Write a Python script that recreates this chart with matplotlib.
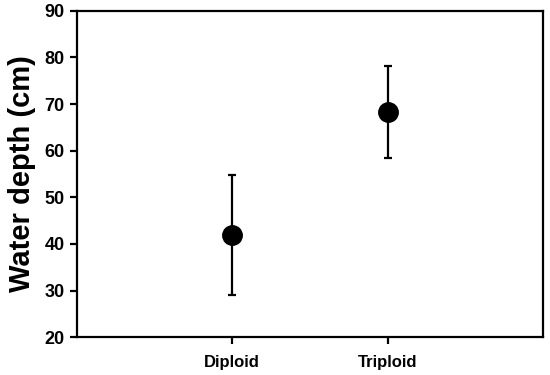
import matplotlib
matplotlib.use("Agg")
import matplotlib.pyplot as plt

plt.rcParams['font.family'] = ['Liberation Sans', 'DejaVu Sans']
plt.rcParams['font.weight'] = 'bold'

groups = ["Diploid", "Triploid"]
means = [41.9, 68.4]
lower = [29.1, 58.4]
upper = [54.8, 78.2]

x = list(range(1, len(groups) + 1))
err_low = [m - lo for m, lo in zip(means, lower)]
err_high = [hi - m for m, hi in zip(means, upper)]

fig = plt.figure(figsize=(5.5, 3.75), dpi=100)
ax = fig.add_axes([0.14, 0.101, 0.847, 0.870])

ax.errorbar(x, means, yerr=[err_low, err_high], fmt='o', color='black',
            markersize=14, elinewidth=1.6, capsize=3, capthick=1.6)

ax.set_xlim(0, 3)
ax.set_ylim(20, 90)
ax.set_xticks(x)
ax.set_xticklabels(groups, fontsize=12, fontweight='bold')
ax.set_yticks(range(20, 91, 10))
ax.tick_params(axis='y', labelsize=13, direction='out', length=5, width=1.6, right=False, pad=4)
ax.tick_params(axis='x', direction='out', length=5, width=1.6, pad=8, top=False)
for lab in ax.get_yticklabels():
    lab.set_fontweight('bold')
for s in ax.spines.values():
    s.set_linewidth(1.6)

ax.set_ylabel("Water depth (cm)", fontsize=21, fontweight='bold', labelpad=6)

fig.savefig("out.png", dpi=100)
plt.close(fig)
